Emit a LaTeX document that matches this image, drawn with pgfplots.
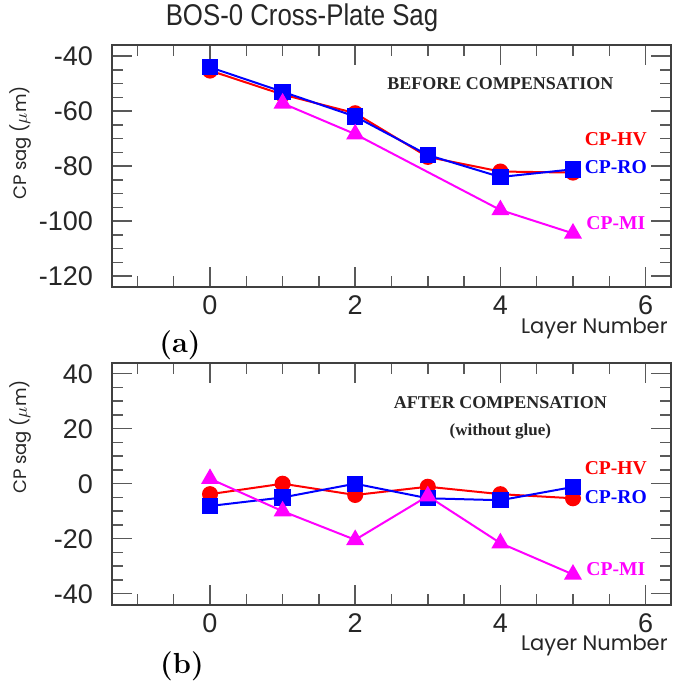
\documentclass[border=0pt]{standalone}
\usepackage{fontspec}
\usepackage{graphicx}
\usepackage{pgfplots}
\pgfplotsset{compat=1.18}
\newfontfamily\helv{Liberation Sans}
\newfontfamily\tms{Liberation Serif}
\newfontfamily\geo{Poppins}
\definecolor{cpred}{RGB}{255,0,0}
\definecolor{cpblue}{RGB}{0,0,255}
\definecolor{cpmag}{RGB}{255,0,255}

\pgfplotsset{
  cpaxis/.style={
    scale only axis, width=279.5pt, height=121pt,
    anchor=south west,
    xmin=-1.35, xmax=6.35,
    xtick={0,2,4,6},
    minor xtick={-1,-0.5,0.5,1,1.5,2.5,3,3.5,4.5,5,5.5},
    axis line style={black!75, line width=0.9pt},
    tick style={black!65, line width=0.75pt},
    major tick length=10pt, minor tick length=5.5pt,
    tick align=inside,
    /pgf/number format/assume math mode=true,
    tick label style={font=\helv\fontsize{13.5}{13.5}\selectfont, text=black!85},
    yticklabel style={xshift=-6pt},
    xticklabel style={yshift=-1pt},
    clip=false,
  },
  hv/.style={cpred, line width=1pt, mark=*, mark size=3.5pt, mark options={solid, fill=cpred, draw=cpred}},
  ro/.style={cpblue, line width=1pt, mark=square*, mark size=3.6pt, mark options={solid, fill=cpblue, draw=cpblue}},
  mi/.style={cpmag, line width=1pt, mark=triangle*, mark size=4.2pt, mark options={solid, fill=cpmag, draw=cpmag}},
}

\begin{document}
\begin{tikzpicture}
\useasboundingbox (0,0) rectangle (342pt,-343.5pt);

% Title
\node[text=black!85] at (151pt,-9pt) {\scalebox{0.86}[1]{\helv\fontsize{15}{15}\selectfont BOS-0 Cross-Plate Sag}};

% ---------- (a) ----------
\begin{axis}[cpaxis, at={(56pt,-143.5pt)},
  ymin=-124, ymax=-36,
  ytick={-120,-100,-80,-60,-40},
  minor ytick={-115,-110,-105,-95,-90,-85,-75,-70,-65,-55,-50,-45},
]
\addplot[hv] coordinates {(0,-45.3) (1,-54) (2,-60.8) (3,-76.7) (4,-82) (5,-82.4)};
\addplot[ro] coordinates {(0,-44.1) (1,-53) (2,-62) (3,-76) (4,-84) (5,-81.2)};
\addplot[mi] coordinates {(1,-57.2) (2,-68.4) (4,-96) (5,-104.5)};
\node[font=\tms\bfseries\fontsize{9}{9}\selectfont, text=black!85] at (axis cs:4.0,-50.2) {BEFORE COMPENSATION};
\node[font=\tms\bfseries\fontsize{9.8}{9.8}\selectfont, text=cpred] at (axis cs:5.59,-70.3) {CP-HV};
\node[font=\tms\bfseries\fontsize{9.8}{9.8}\selectfont, text=cpblue] at (axis cs:5.59,-80.3) {CP-RO};
\node[font=\tms\bfseries\fontsize{9.8}{9.8}\selectfont, text=cpmag] at (axis cs:5.59,-100.6) {CP-MI};
\end{axis}

% ---------- (b) ----------
\begin{axis}[cpaxis, at={(56pt,-302.35pt)},
  ymin=-44, ymax=44,
  ytick={-40,-20,0,20,40},
  minor ytick={-35,-30,-25,-15,-10,-5,5,10,15,25,30,35},
]
\addplot[hv] coordinates {(0,-3.8) (1,0) (2,-4.1) (3,-1.1) (4,-3.8) (5,-5.3)};
\addplot[ro] coordinates {(0,-8.1) (1,-5) (2,0) (3,-5.3) (4,-6) (5,-1.2)};
\addplot[mi] coordinates {(0,1.8) (1,-10) (2,-20.4) (3,-4.5) (4,-21.6) (5,-33)};
\node[font=\tms\bfseries\fontsize{9}{9}\selectfont, text=black!85] at (axis cs:4.0,29.6) {AFTER COMPENSATION};
\node[font=\tms\bfseries\fontsize{8.5}{8.5}\selectfont, text=black!85] at (axis cs:4.0,19.1) {(without glue)};
\node[font=\tms\bfseries\fontsize{9.8}{9.8}\selectfont, text=cpred] at (axis cs:5.59,5.7) {CP-HV};
\node[font=\tms\bfseries\fontsize{9.8}{9.8}\selectfont, text=cpblue] at (axis cs:5.59,-4.8) {CP-RO};
\node[font=\tms\bfseries\fontsize{9.8}{9.8}\selectfont, text=cpmag] at (axis cs:5.59,-30.9) {CP-MI};
\end{axis}

% Axis titles
\node[font=\geo\fontsize{10.5}{10.5}\selectfont, text=black!85, anchor=base east, inner sep=0pt] at (334pt,-166.5pt) {Layer Number};
\node[font=\geo\fontsize{10.5}{10.5}\selectfont, text=black!85, anchor=base east, inner sep=0pt] at (334pt,-325pt) {Layer Number};
\node[font=\geo\fontsize{9}{9}\selectfont, text=black!85, rotate=90] at (10.5pt,-71.5pt) {CP sag ($\mu$m)};
\node[font=\geo\fontsize{9}{9}\selectfont, text=black!85, rotate=90] at (10.5pt,-218.5pt) {CP sag ($\mu$m)};

% Panel labels
\node[font=\bfseries\fontsize{14.5}{14.5}\selectfont] at (90pt,-172.5pt) {(a)};
\node[font=\bfseries\fontsize{14.5}{14.5}\selectfont] at (91pt,-333pt) {(b)};
\end{tikzpicture}
\end{document}
